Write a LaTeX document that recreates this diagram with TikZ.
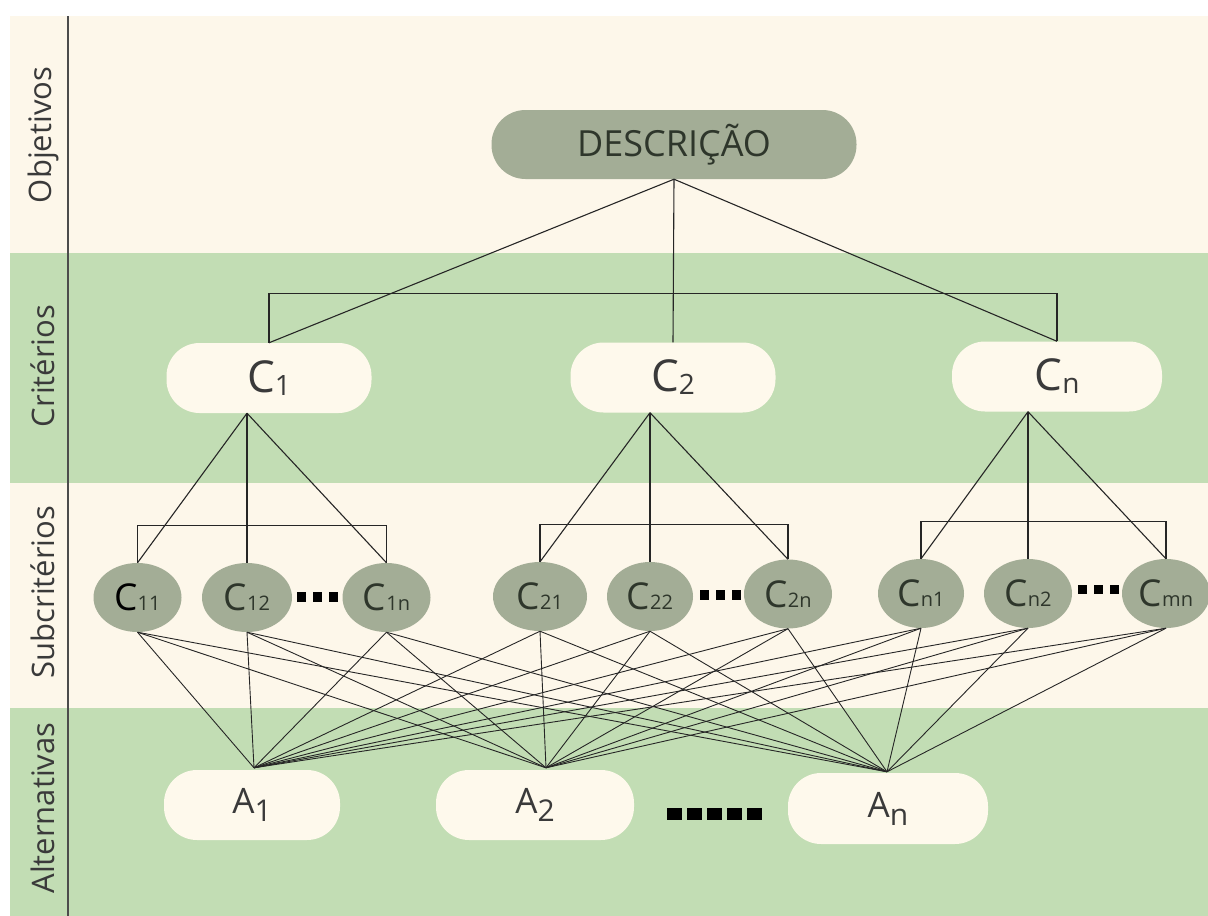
\documentclass[tikz,border=0pt]{standalone}
\usepackage{fontspec}
\setmainfont{Open Sans}
\usetikzlibrary{shapes.geometric}

\definecolor{bandcream}{HTML}{FDF7EA}
\definecolor{bandgreen}{HTML}{C2DDB4}
\definecolor{sage}{HTML}{A3AD96}
\definecolor{pillcream}{HTML}{FEF9EC}
\definecolor{inkdark}{HTML}{2E362B}
\definecolor{inkgrey}{HTML}{3A3A3A}

% label helpers
\newcommand\critlbl[1]{{\fontsize{44}{44}\selectfont C}\raisebox{-3pt}{\fontsize{28}{28}\selectfont #1}}
\newcommand\sublbl[2][inkdark]{{\color{#1}\fontsize{37}{37}\selectfont C}{\fontsize{20}{20}\selectfont #2}}
\newcommand\altlbl[1]{{\fontsize{35}{35}\selectfont A}\raisebox{-8pt}{\fontsize{30}{30}\selectfont #1}}

\begin{document}
\begin{tikzpicture}[x=1pt,y=-1pt,
  link/.style={draw=black!85, line width=1.1pt},
  axisline/.style={draw=black!70, line width=1.6pt},
  bandlabel/.style={rotate=90, text=inkgrey, font=\fontsize{31}{31}\selectfont},
  goalbox/.style={fill=sage, rounded corners=34pt, minimum width=365pt, minimum height=69pt,
    inner sep=0pt, text=inkdark, font=\fontsize{36}{36}\selectfont},
  critbox/.style={fill=pillcream, rounded corners=33pt, minimum width=205pt, minimum height=70pt,
    inner sep=0pt, text=inkgrey},
  subbox/.style={ellipse, fill=sage, minimum width=88pt, minimum height=69pt, inner sep=0pt,
    text=inkdark},
  altbox/.style={fill=pillcream, rounded corners=33pt, minimum height=70pt, inner sep=0pt,
    text=inkgrey},
  sqdot/.style={fill=black}
]
\useasboundingbox (0,0) rectangle (1208,916);
\fill[white] (0,0) rectangle (1208,916);

% horizontal bands
\fill[bandcream] (10,16) rectangle (1208,253);
\fill[bandgreen] (10,253) rectangle (1208,483);
\fill[bandcream] (10,483) rectangle (1208,708);
\fill[bandgreen] (10,708) rectangle (1208,916);
\draw[axisline] (68,16) -- (68,916);

% band titles
\node[bandlabel] (lobj) at (43,135) {Objetivos};
\node[bandlabel] (lcrit) at (43,366) {Critérios};
\node[bandlabel] (lsub) at (43,592) {Subcritérios};
\node[bandlabel] (lalt) at (43,808) {Alternativas};

% goal
\node[goalbox] (desc) at (674,144.5) {DESCRIÇÃO};

% criteria
\node[critbox] (c1) at (269,378) {\critlbl{1}};
\node[critbox] (c2) at (673,377.5) {\critlbl{2}};
\node[critbox, minimum width=210pt] (cn) at (1057,376.5) {\critlbl{n}};

% sub-criteria
\node[subbox] (s11) at (137.5,597.5) {\sublbl[black]{11}};
\node[subbox, minimum width=90pt] (s12) at (247,597.5) {\sublbl{12}};
\node[subbox] (s1n) at (386.5,597.5) {\sublbl{1n}};
\node[subbox, minimum width=94pt] (s21) at (540,596.5) {\sublbl{21}};
\node[subbox, minimum width=86pt] (s22) at (650,596.5) {\sublbl{22}};
\node[subbox] (s2n) at (788,594) {\sublbl{2n}};
\node[subbox, minimum width=86pt] (sn1) at (921,593.5) {\sublbl{n1}};
\node[subbox] (sn2) at (1028,593.5) {\sublbl{n2}};
\node[subbox] (smn) at (1166,593.5) {\sublbl{mn}};

% alternatives
\node[altbox, minimum width=176pt] (a1) at (252,805) {\altlbl{1}};
\node[altbox, minimum width=198pt] (a2) at (535,805) {\altlbl{2}};
\node[altbox, minimum width=200pt, minimum height=71pt] (an) at (888,808.5) {\altlbl{n}};

% ellipsis marks
\foreach \x in {297,313,329} \fill[sqdot] (\x,592) rectangle ++(9,10);
\foreach \x in {700,716,732} \fill[sqdot] (\x,590) rectangle ++(9,10);
\foreach \x in {1078,1094,1110} \fill[sqdot] (\x,585) rectangle ++(9,9);
\foreach \x in {667,687,707,727,747} \fill[sqdot] (\x,808) rectangle ++(15,12);

% goal -> criteria
\draw[link] (desc.south) -- (c1.north);
\draw[link] (desc.south) -- (c2.north);
\draw[link] (desc.south) -- (cn.north);
\draw[link] (c1.north) -- ++(0,-49) -| (cn.north);

% criteria -> sub-criteria
\coordinate (c1b) at (s12.north |- c1.south);
\coordinate (c2b) at (s22.north |- c2.south);
\coordinate (cnb) at (sn2.north |- cn.south);
\foreach \p/\a/\b/\c in {c1b/s11/s12/s1n, c2b/s21/s22/s2n, cnb/sn1/sn2/smn} {
  \draw[link] (\p) -- (\a.north);
  \draw[link] (\p) -- (\b.north);
  \draw[link] (\p) -- (\c.north);
  \draw[link] (\a.north) -- ++(0,-37) -| (\c.north);
}

% sub-criteria -> alternatives
\coordinate (a1t) at ([xshift=2pt,yshift=2pt]a1.north);
\coordinate (a2t) at ([xshift=11pt,yshift=2pt]a2.north);
\coordinate (ant) at ([xshift=-1pt,yshift=1pt]an.north);
\foreach \s in {s11,s12,s1n,s21,s22,s2n,sn1,sn2,smn}
  \foreach \a in {a1t,a2t,ant}
    \draw[link, line width=0.9pt] (\s.south) -- (\a);
\end{tikzpicture}
\end{document}
